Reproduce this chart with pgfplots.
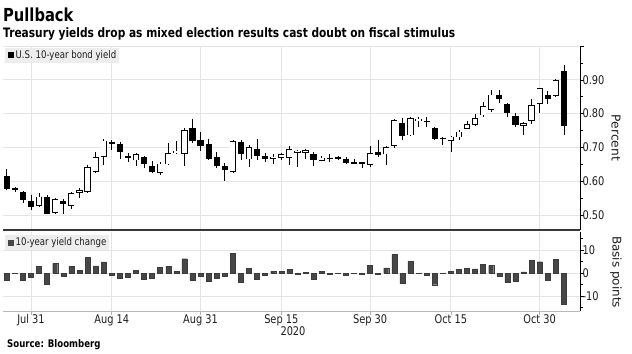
\documentclass[border=0pt]{standalone}
\usepackage{fontspec}
\setmainfont{DejaVu Sans}[FakeStretch=0.82]
\newfontfamily\rotfont{DejaVu Sans}
\usepackage{pgfplots}
\usepackage{pgfplotstable}
\pgfplotsset{compat=1.18}
\definecolor{gridc}{HTML}{E4E4E4}
\definecolor{barc}{HTML}{474747}
\definecolor{sepc}{HTML}{383838}
\definecolor{legbg}{HTML}{EDEDED}
\definecolor{txt}{HTML}{1E1E1E}

% candles: i = trading day (0 = Jul 31), L = low, lo/hi = body bottom/top, H = high
\pgfplotstableread{
i L lo hi H
-3 0.574 0.577 0.615 0.635
-2 0.568 0.574 0.580 0.583
-1 0.536 0.544 0.568 0.572
0 0.516 0.524 0.540 0.558
2 0.502 0.504 0.554 0.558
4 0.503 0.534 0.541 0.546
10 0.692 0.710 0.717 0.722
11 0.665 0.687 0.709 0.717
12 0.658 0.669 0.676 0.682
14 0.638 0.650 0.671 0.675
15 0.623 0.627 0.645 0.660
20 0.712 0.719 0.758 0.785
21 0.690 0.704 0.722 0.747
22 0.663 0.667 0.709 0.726
23 0.638 0.645 0.672 0.686
24 0.601 0.633 0.645 0.653
26 0.663 0.679 0.716 0.722
28 0.663 0.675 0.694 0.726
29 0.658 0.666 0.674 0.684
35 0.645 0.663 0.680 0.685
37 0.658 0.666 0.670 0.679
38 0.663 0.665 0.671 0.675
39 0.651 0.655 0.667 0.672
40 0.651 0.654 0.656 0.667
41 0.638 0.650 0.656 0.658
43 0.672 0.678 0.685 0.722
46 0.722 0.735 0.773 0.786
49 0.761 0.777 0.778 0.789
50 0.722 0.726 0.758 0.761
51 0.707 0.725 0.729 0.732
58 0.831 0.843 0.856 0.870
59 0.791 0.801 0.828 0.831
60 0.761 0.766 0.794 0.801
64 0.828 0.842 0.854 0.868
66 0.737 0.763 0.927 0.944
}\blk

\pgfplotstableread{
i L lo hi H
1 0.524 0.528 0.554 0.566
3 0.503 0.507 0.546 0.550
5 0.518 0.528 0.564 0.568
6 0.549 0.566 0.574 0.579
7 0.564 0.568 0.641 0.649
8 0.623 0.627 0.672 0.686
9 0.647 0.672 0.720 0.726
13 0.645 0.662 0.679 0.684
16 0.619 0.625 0.652 0.656
17 0.647 0.650 0.682 0.712
18 0.680 0.682 0.690 0.718
19 0.645 0.680 0.752 0.756
25 0.625 0.627 0.719 0.722
27 0.641 0.665 0.700 0.707
30 0.651 0.669 0.673 0.679
31 0.663 0.670 0.679 0.683
32 0.649 0.669 0.694 0.704
33 0.643 0.687 0.690 0.691
34 0.667 0.683 0.692 0.696
36 0.659 0.661 0.670 0.675
42 0.641 0.648 0.684 0.704
44 0.648 0.679 0.700 0.704
45 0.698 0.704 0.781 0.783
47 0.734 0.736 0.787 0.791
48 0.761 0.777 0.785 0.789
52 0.687 0.720 0.732 0.734
53 0.722 0.730 0.747 0.752
54 0.753 0.754 0.768 0.778
55 0.763 0.766 0.786 0.798
56 0.791 0.795 0.823 0.833
57 0.805 0.811 0.856 0.870
61 0.736 0.763 0.771 0.776
62 0.768 0.778 0.826 0.842
63 0.801 0.828 0.875 0.876
65 0.850 0.852 0.900 0.902
}\wht

\pgfplotstableread{
i chg
-3 -3.2
-2 -0.3
-1 -3.0
0 -2.0
1 3.0
2 -5.0
3 4.2
4 -1.2
5 3.0
6 1.0
7 6.7
8 3.1
9 4.8
10 -1.0
11 -2.3
12 -1.8
13 1.0
14 -2.9
15 -2.3
16 2.5
17 3.0
18 0.8
19 6.2
20 -3.3
21 -1.5
22 -3.7
23 -2.2
24 -1.2
25 8.6
26 -4.0
27 2.1
28 -2.5
29 -0.9
30 0.7
31 0.6
32 1.5
33 -0.4
34 0.2
35 -2.9
36 0.7
37 -0.4
38 -0.1
39 -1.0
40 -0.1
41 -0.4
42 3.4
43 -0.6
44 2.2
45 8.1
46 -4.6
47 5.2
48 -0.2
49 -0.8
50 -5.1
51 -0.1
52 0.7
53 1.5
54 2.1
55 1.8
56 3.7
57 3.3
58 -1.3
59 -4.2
60 -3.5
61 0.5
62 5.5
63 4.9
64 -3.3
65 5.8
66 -13.7
}\changes

\pgfplotsset{
  wick/.style={draw=none, mark=none, forget plot,
    error bars/.cd, y dir=minus, y explicit, error mark=none,
    error bar style={draw=black, line width=0.6pt}},
  body/.style={draw=none, mark=none, forget plot,
    error bars/.cd, y dir=minus, y explicit, error mark=none,
    error bar style={draw=#1, line width=6.2bp}},
}

\begin{document}
\begin{tikzpicture}
\useasboundingbox (0,0) rectangle (632bp,-354bp);
\node[anchor=base west, inner sep=0pt, font=\fontsize{18}{20}\selectfont\bfseries] at (3bp,-21.5bp) {Pullback};
\node[anchor=base west, inner sep=0pt, font=\fontsize{13}{15}\selectfont\bfseries] at (3bp,-37.5bp) {Treasury yields drop as mixed election results cast doubt on fiscal stimulus};

\begin{axis}[
  at={(3bp,-46bp)}, anchor=north west, scale only axis,
  width=577bp, height=184bp,
  xmin=-3.47, xmax=68, ymin=0.4556, ymax=1.0,
  axis x line=bottom, axis y line=right,
  x axis line style={line width=2.5bp, color=sepc, -},
  y axis line style={line width=0.6pt, color=black, -},
  xtick={0,10,21,31,42,52,63}, xticklabels={}, xmajorgrids,
  major x tick style={draw=none},
  ytick={0.5,0.6,0.7,0.8,0.9,1.0}, yticklabels={0.50,0.60,0.70,0.80,0.90,},
  minor ytick={0.55,0.65,0.75,0.85,0.95},
  ymajorgrids,
  grid style={gridc, line width=0.8pt},
  tick align=outside, major tick length=4bp, minor tick length=2.5bp,
  ytick style={black, line width=0.6pt},
  yticklabel style={font=\fontsize{12}{12}\selectfont, text=txt, xshift=-5bp},
]
% wicks
\addplot[wick] table[x=i, y=H, y error minus expr=\thisrow{H}-\thisrow{L}] {\blk};
\addplot[wick] table[x=i, y=H, y error minus expr=\thisrow{H}-\thisrow{L}] {\wht};
% black bodies
\addplot[body=black] table[x=i, y=hi, y error minus expr={max(\thisrow{hi}-\thisrow{lo},0.004)}] {\blk};
% white bodies: outline then interior
\addplot[body=black] table[x=i, y=hi, y error minus expr={max(\thisrow{hi}-\thisrow{lo},0.006)}] {\wht};
\addplot[draw=none, mark=none, forget plot,
    error bars/.cd, y dir=minus, y explicit, error mark=none,
    error bar style={draw=white, line width=4.8bp}]
  table[x=i, y expr=\thisrow{hi}-0.0021, y error minus expr={max(\thisrow{hi}-\thisrow{lo},0.006)-0.0042}] {\wht};
\end{axis}
\draw[gridc, line width=0.8pt] (3bp,-46bp) -- (580bp,-46bp);

\begin{axis}[
  at={(3bp,-232bp)}, anchor=north west, scale only axis,
  width=577bp, height=79bp,
  xmin=-3.47, xmax=68, ymin=-16.5, ymax=17.8,
  axis x line=bottom, axis y line=right,
  x axis line style={line width=0.8pt, color=gray!55, -},
  y axis line style={line width=0.6pt, color=black, -},
  xtick={0,10,21,31,42,52,63},
  xticklabels={Jul 31,Aug 14,Aug 31,Sep 15,Sep 30,Oct 15,Oct 30},
  xmajorgrids,
  xtick style={gray!60, line width=0.6pt},
  xticklabel style={font=\fontsize{12}{12}\selectfont, text=txt, anchor=base, yshift=-8bp},
  ytick={-10,0,10}, minor ytick={-15,-5,5,15},
  ymajorgrids,
  grid style={gridc, line width=0.8pt},
  tick align=outside, major tick length=4bp, minor tick length=2.5bp,
  ytick style={black, line width=0.6pt},
  yticklabel style={font=\fontsize{12}{12}\selectfont, text=txt, xshift=-5bp, /pgf/number format/assume math mode=true},
  ybar, bar width=5bp,
]
\addplot[fill=barc, draw=barc!85!black, line width=0.4pt] table[x=i, y=chg] {\changes};
\end{axis}

\node[anchor=north west, fill=legbg, inner xsep=3bp, inner ysep=2.5bp, font=\fontsize{10.5}{11}\selectfont, text=txt] at (5bp,-47.5bp) {\textcolor{black}{\rule{6bp}{6bp}}\hspace{1.5bp}U.S. 10-year bond yield};
\node[anchor=north west, fill=legbg, inner xsep=3bp, inner ysep=2.5bp, font=\fontsize{10.5}{11}\selectfont, text=txt] at (5bp,-235bp) {\textcolor{barc}{\rule{6bp}{6bp}}\hspace{1.5bp}10-year yield change};

\node[rotate=-90, font=\rotfont\fontsize{12.3}{13}\selectfont, text=txt] at (616bp,-138bp) {Percent};
\node[rotate=-90, font=\rotfont\fontsize{12}{13}\selectfont, text=txt] at (616bp,-272bp) {Basis points};
\node[anchor=base, inner sep=0pt, font=\fontsize{12}{12}\selectfont, text=txt] at (293bp,-335bp) {2020};
\node[anchor=base west, inner sep=0pt, font=\fontsize{10.5}{12}\selectfont\bfseries] at (7bp,-347.5bp) {Source: Bloomberg};
\end{tikzpicture}
\end{document}
